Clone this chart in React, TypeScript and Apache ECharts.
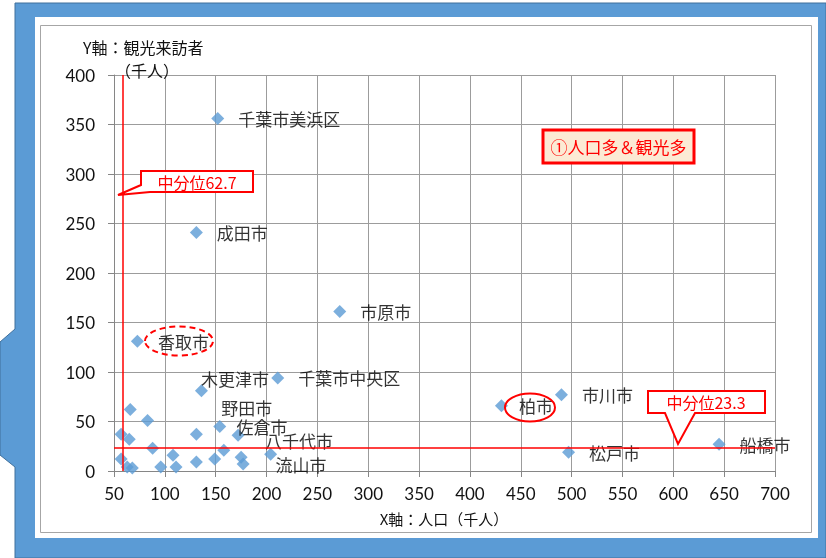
import React, { useEffect, useRef } from "react";
import * as echarts from "echarts";

// Named cities: population (thousand) and tourist visitors (thousand)
const namedCities = ["千葉市美浜区", "成田市", "市原市", "香取市", "千葉市中央区", "木更津市", "野田市", "佐倉市", "八千代市", "流山市", "柏市", "市川市", "松戸市", "船橋市"];
const namedPopulation = [152, 131, 272, 73, 211, 136, 154, 172, 204, 175, 431, 490, 497, 645];
const namedVisitors = [356, 241, 161, 131, 94, 81, 45, 36, 17, 14, 66, 77, 19, 27];
// label nudges [dx, dy] in px (manual label placement in the original)
const labelNudges = [[0, 0], [0, 0], [0, 0], [0, 0], [0, 0], [-21, -12], [-19, -19], [-22, -9], [-26, -14], [14, 7], [-3, 0], [0, 0], [0, 0], [0, 0]];

// Unnamed municipalities
const otherPopulation = [66, 83, 57, 65, 131, 88, 158, 108, 57, 177, 149, 131, 63, 68, 96, 111];
const otherVisitors = [62, 51, 37, 32, 37, 23, 21, 16, 12, 7, 12, 9, 4, 3, 4, 4];

// medians: label values, and where the lines are drawn in the original picture
const MEDIAN_X_TEXT = "中分位62.7";
const MEDIAN_Y_TEXT = "中分位23.3";
const MEDIAN_X_LINE = 59;
const MEDIAN_Y_LINE = 23.3;

const X_MIN = 50, X_MAX = 700, X_STEP = 50;
const Y_MIN = 0, Y_MAX = 400, Y_STEP = 50;

const CJK = "'Noto Sans CJK JP', 'Noto Sans', sans-serif";
const NUM = "Lato, 'Noto Sans', sans-serif";
const BLUE = "#5B9BD5";
const RED = "#FF0000";

export default function App() {
  const ref = useRef<HTMLDivElement>(null);
  useEffect(() => {
    if (!ref.current) return;
    const chart = echarts.init(ref.current, null, { renderer: "svg" });
    const namedData = namedCities.map((n, i) => ({
      value: [namedPopulation[i], namedVisitors[i]],
      name: n,
      label: { offset: labelNudges[i] },
    }));
    const otherData = otherPopulation.map((p, i) => [p, otherVisitors[i]]);

    chart.setOption({
      animation: false,
      backgroundColor: "transparent",
      textStyle: { fontFamily: CJK },
      grid: { left: 114, right: 51, top: 75, bottom: 87 },
      xAxis: {
        type: "value",
        min: X_MIN,
        max: X_MAX,
        interval: X_STEP,
        axisLine: { show: true, onZero: false, lineStyle: { color: "#868686", width: 1 } },
        axisTick: { show: true, length: 6, lineStyle: { color: "#868686" } },
        axisLabel: { color: "#111", fontSize: 17, fontFamily: NUM, margin: 14 },
        splitLine: { show: true, lineStyle: { color: "#9c9c9c", width: 1 } },
      },
      yAxis: {
        type: "value",
        min: Y_MIN,
        max: Y_MAX,
        interval: Y_STEP,
        axisLine: { show: true, lineStyle: { color: "#868686", width: 1 } },
        axisTick: { show: true, length: 6, lineStyle: { color: "#868686" } },
        axisLabel: { color: "#111", fontSize: 17, fontFamily: NUM, margin: 19 },
        splitLine: { show: true, lineStyle: { color: "#9c9c9c", width: 1 } },
      },
      series: [
        {
          type: "scatter",
          symbol: "diamond",
          symbolSize: 13,
          itemStyle: { color: BLUE },
          data: otherData,
          z: 3,
          markLine: {
            silent: true,
            symbol: "none",
            label: { show: false },
            lineStyle: { color: RED, width: 1.5, type: "solid" },
            data: [
              [{ coord: [MEDIAN_X_LINE, Y_MIN] }, { coord: [MEDIAN_X_LINE, Y_MAX] }],
              [{ coord: [X_MIN, MEDIAN_Y_LINE] }, { coord: [X_MAX, MEDIAN_Y_LINE] }],
            ],
          },
        },
        {
          type: "scatter",
          symbol: "diamond",
          symbolSize: 13,
          itemStyle: { color: BLUE },
          z: 4,
          label: {
            show: true,
            position: "right",
            distance: 14,
            formatter: "{b}",
            color: "#000",
            fontSize: 17,
            lineHeight: 17,
            fontFamily: CJK,
          },
          data: namedData,
        },
      ],
      graphic: [
        // slide frame
        {
          type: "polygon",
          z: -100,
          silent: true,
          shape: { points: [[15, 3], [826, 3], [826, 558], [15, 558], [15, 467], [0, 455], [0, 342], [15, 329]] },
          style: { fill: BLUE, stroke: "#41719C", lineWidth: 1 },
        },
        {
          type: "rect",
          z: -99,
          silent: true,
          shape: { x: 35, y: 17, width: 783, height: 521 },
          style: { fill: "#ffffff" },
        },
        {
          type: "rect",
          z: -98,
          silent: true,
          shape: { x: 40.5, y: 25.5, width: 771, height: 507 },
          style: { fill: "#ffffff", stroke: "#a6a6a6", lineWidth: 1 },
        },
        // axis titles
        {
          type: "text",
          z: 50,
          x: 83,
          y: 47,
          style: { text: "Y軸：観光来訪者", fill: "#111", font: `16px ${CJK}`, verticalAlign: "middle" },
        },
        {
          type: "text",
          z: 50,
          x: 115,
          y: 70,
          style: { text: "（千人）", fill: "#111", font: `16px ${CJK}`, verticalAlign: "middle" },
        },
        {
          type: "text",
          z: 50,
          x: 444,
          y: 518,
          style: { text: "X軸：人口（千人）", fill: "#111", font: `15px ${CJK}`, align: "center", verticalAlign: "middle" },
        },
        // callout: median of population
        {
          type: "polygon",
          z: 60,
          shape: { points: [[141, 171], [253, 171], [253, 192], [150, 192], [118, 195], [141, 185]] },
          style: { fill: "#fff", stroke: RED, lineWidth: 2 },
        },
        {
          type: "text",
          z: 61,
          x: 197,
          y: 181.5,
          style: { text: MEDIAN_X_TEXT, fill: RED, font: `16px ${CJK}`, align: "center", verticalAlign: "middle" },
        },
        // callout: median of visitors
        {
          type: "polygon",
          z: 60,
          shape: { points: [[648, 391], [765, 391], [765, 413], [695, 413], [678, 444], [665, 413], [648, 413]] },
          style: { fill: "#fff", stroke: RED, lineWidth: 2 },
        },
        {
          type: "text",
          z: 61,
          x: 706,
          y: 402,
          style: { text: MEDIAN_Y_TEXT, fill: RED, font: `16px ${CJK}`, align: "center", verticalAlign: "middle" },
        },
        // quadrant label
        {
          type: "rect",
          z: 60,
          shape: { x: 543, y: 130, width: 151, height: 33 },
          style: { fill: "#FCEAD4", stroke: RED, lineWidth: 3 },
        },
        {
          type: "text",
          z: 61,
          x: 618.5,
          y: 146.5,
          style: { text: "①人口多＆観光多", fill: RED, font: `17px ${CJK}`, align: "center", verticalAlign: "middle" },
        },
        // highlight ellipses
        {
          type: "ellipse",
          z: 60,
          shape: { cx: 179, cy: 341, rx: 34, ry: 14.5 },
          style: { fill: "none", stroke: RED, lineWidth: 2, lineDash: [6, 4] },
        },
        {
          type: "ellipse",
          z: 60,
          shape: { cx: 530, cy: 407.5, rx: 25, ry: 14 },
          style: { fill: "none", stroke: RED, lineWidth: 2 },
        },
      ],
    });
    return () => chart.dispose();
  }, []);
  return <div ref={ref} style={{ position: "fixed", left: 0, top: 0, width: 826, height: 558 }} />;
}
